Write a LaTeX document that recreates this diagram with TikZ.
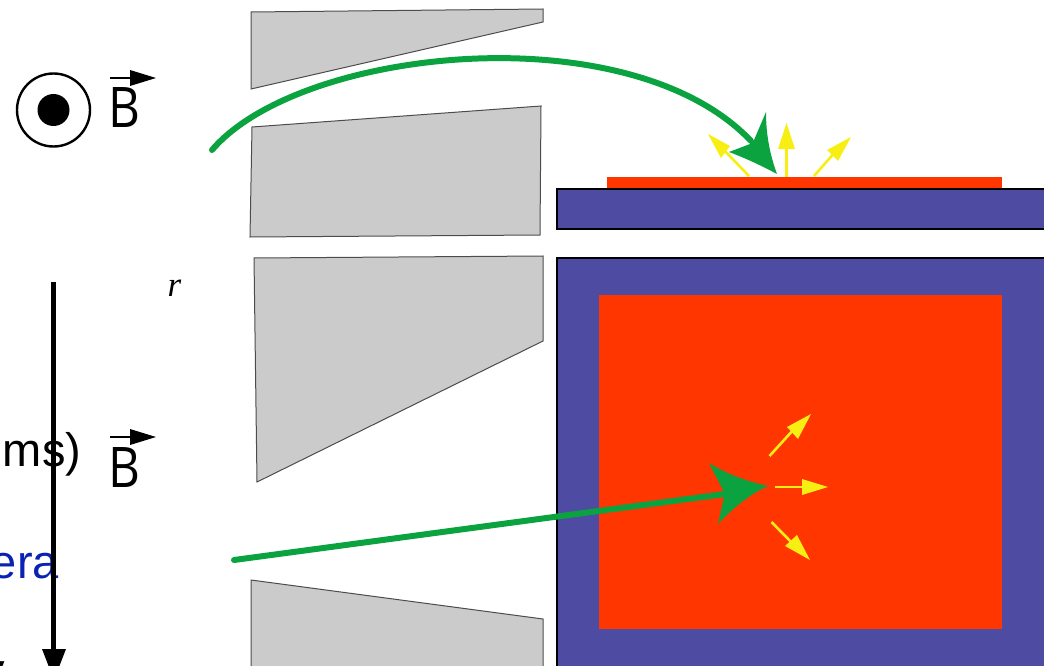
\documentclass[tikz,border=0pt]{standalone}
\usepackage{fontspec}
\setmainfont{Liberation Sans}
\newfontfamily\bfont{Open Sans}
\newfontfamily\rfont{Liberation Serif}
\definecolor{polegray}{HTML}{CBCBCB}
\definecolor{sampleblue}{HTML}{4E4BA3}
\definecolor{samplered}{HTML}{FF3600}
\definecolor{beamgreen}{HTML}{0BA33F}
\definecolor{rayyellow}{HTML}{F7EE14}
\definecolor{textblue}{HTML}{0A22B4}
\tikzset{
 pole/.style={fill=polegray,draw=black!70,line width=1pt},
 plate/.style={fill=sampleblue,draw=black,line width=2pt},
 film/.style={fill=samplered,draw=none},
 beam/.style={draw=beamgreen,line width=6pt,line cap=round},
 beamhead/.style={fill=beamgreen,draw=none},
 ray/.style={draw=rayyellow,line width=2.6pt},
 rayhead/.style={fill=rayyellow,draw=none},
 btext/.style={font=\bfont\fontsize{56}{56}\selectfont,inner sep=0pt,anchor=base},
 labeltext/.style={font=\fontsize{47}{47}\selectfont,inner sep=0pt,anchor=base east},
}
\newcommand{\yhead}[3]{\fill[rayhead] (#1) -- (#2) -- (#3) -- cycle;}
\begin{document}
\begin{tikzpicture}[x=1pt,y=-1pt]
\useasboundingbox (0,0) rectangle (1044,666);
\clip (0,0) rectangle (1044,666);
% pole pieces
\draw[pole] (251,12) -- (543,9) -- (543,22) -- (251,89) -- cycle;
\draw[pole] (252,127) -- (541,106) -- (540,235) -- (250,237) -- cycle;
\draw[pole] (254,258) -- (543,256) -- (543,341) -- (257,482) -- cycle;
\draw[pole] (251,580) -- (543,619) -- (543,680) -- (251,680) -- cycle;
% top view sample
\draw[plate] (556.5,189) rectangle (1047,229);
\fill[film] (607,177) rectangle (1002,188);
% front view sample
\draw[plate] (556.5,258) rectangle (1047,669);
\fill[film] (598.5,295) rectangle (1002,629);
% field symbol
\node[circle,draw=black,line width=2.4pt,minimum size=73pt,inner sep=0pt] (ring) at (53.5,110) {};
\node[circle,fill=black,minimum size=32pt,inner sep=0pt] (dot) at (ring.center) {};
\node[btext] (b1) at (124.5,128) {\scalebox{0.88}[1]{B}};
\node[btext] (b2) at (124.5,487) {\scalebox{0.88}[1]{B}};
\coordinate (b1a) at (110,78); \coordinate (b1b) at (156,78);
\coordinate (b2a) at (110,437); \coordinate (b2b) at (156,437);
\draw[line width=2pt] (b1a) -- (130,78);
\fill (b1b) -- (130,70) -- (130,86) -- cycle;
\draw[line width=2pt] (b2a) -- (130,437);
\fill (b2b) -- (130,429) -- (130,445) -- cycle;
% r
\node[font=\rfont\itshape\fontsize{35}{35}\selectfont,inner sep=0pt,anchor=base] (rlabel) at (174.5,296) {r};
% cut-off texts
\node[labeltext] (ms) at (81.5,466) {ms)};
\node[labeltext,text=textblue] (era) at (59,578) {era};
\node[labeltext] (ycut) at (5,686) {y};
% vertical arrow
\coordinate (va) at (53.5,282); \coordinate (vb) at (53.5,650);
\draw[line width=4.5pt] (va) -- (vb);
\fill (42,649) -- (66,649) -- (54,680) -- cycle;
% green beams
\coordinate (g1a) at (212,150); \coordinate (g1b) at (751,141);
\draw[beam] (g1a) .. controls (300,47) and (630,13) .. (g1b);
\fill[beamhead] (777,174) .. controls (760,165) and (745,158) .. (729,152)
  -- (750,144) -- (754,140) -- (766,112) .. controls (766,135) and (770,155) .. (777,174) -- cycle;
\coordinate (g2a) at (234,560); \coordinate (g2b) at (725,494);
\draw[beam] (g2a) -- (g2b);
\fill[beamhead] (768,486) .. controls (745,481) and (725,473) .. (709,463)
  -- (723,490) -- (724,497) -- (718,524) .. controls (733,508) and (750,494) .. (768,486) -- cycle;
% yellow rays top
\coordinate (t1) at (749,176); \coordinate (t1e) at (722,148);
\draw[ray] (t1) -- (t1e);
\yhead{708,134}{730,146}{721,158}
\coordinate (t2) at (786.5,177); \coordinate (t2e) at (786.5,148);
\draw[ray] (t2) -- (t2e);
\yhead{786.5,123}{778,149}{795,149}
\coordinate (t3) at (814,176); \coordinate (t3e) at (836,151);
\draw[ray] (t3) -- (t3e);
\yhead{851,137}{827,150}{838,161}
% yellow rays front
\coordinate (f1) at (769.5,456); \coordinate (f1e) at (795,428);
\draw[ray] (f1) -- (f1e);
\yhead{811,414}{787,427}{798,439}
\coordinate (f2) at (775,487); \coordinate (f2e) at (805,487);
\draw[ray] (f2) -- (f2e);
\yhead{828,487}{802,479}{802,495}
\coordinate (f3) at (771.5,522); \coordinate (f3e) at (795,546);
\draw[ray] (f3) -- (f3e);
\yhead{810,560}{785,546}{797,535}
\end{tikzpicture}
\end{document}
